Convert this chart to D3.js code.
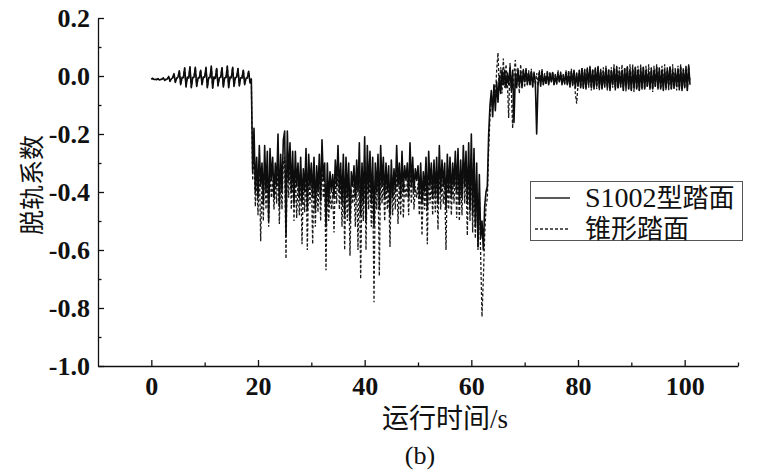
<!DOCTYPE html>
<html>
<head>
<meta charset="utf-8">
<script src="https://cdn.jsdelivr.net/npm/d3@7"></script>
<style>
  html, body { margin: 0; padding: 0; background: #fff; }
  svg { display: block; }
</style>
</head>
<body>
<svg id="chart" width="783" height="474"></svg>
<script>
// ---------------- data ----------------
const timeStep = 0.25;            // seconds between samples, starting at t = 0
const xMajorTicks = [0, 20, 40, 60, 80, 100];
const xMinorTicks = [10, 30, 50, 70, 90, 110];
const yMajorTicks = [0.2, 0.0, -0.2, -0.4, -0.6, -0.8, -1.0];
const yMinorTicks = [0.1, -0.1, -0.3, -0.5, -0.7, -0.9];
const seriesLatin = ["S1002", ""];
const seriesCjk = ["型踏面", "锥形踏面"];
const xTitle = "运行时间/s";
const yTitle = "脱轨系数";
const caption = "(b)";

// S1002 profile (solid)
const s1002Values = [
  // t 0 - 18.75
  -.010,-.008,-.012,-.011, -.012,-.009,-.014,-.012, -.011,-.006,-.015,-.012, -.010,-.002,-.018,-.010,
  -.006,.008,-.022,-.008, -.004,.018,-.030,-.006, -.006,.028,-.038,-.004, -.006,.032,-.040,-.006,
  -.004,.030,-.036,-.008, -.006,.020,-.030,-.004, -.004,.030,-.040,-.006, -.006,.034,-.042,-.004,
  -.008,.026,-.034,-.006, -.004,.028,-.038,-.006, -.006,.034,-.040,-.004, -.006,.030,-.036,-.006,
  -.004,.026,-.034,-.006, -.006,.020,-.030,-.008, -.006,.016,-.024,-.010,
  // t 19 - 63.75
  -.33,-.18,-.40,-.28, -.42,-.24,-.38,-.30, -.44,-.24,-.40,-.26, -.50,-.25,-.36,-.28,
  -.42,-.30,-.38,-.20, -.45,-.27,-.40,-.22, -.19,-.55,-.19,-.36, -.23,-.40,-.26,-.44,
  -.26,-.38,-.30,-.42, -.28,-.44,-.32,-.40, -.25,-.46,-.27,-.38, -.30,-.42,-.28,-.46,
  -.31,-.40,-.27,-.43, -.22,-.36,-.30,-.52, -.30,-.44,-.33,-.40, -.34,-.42,-.29,-.38,
  -.24,-.40,-.30,-.44, -.27,-.48,-.28,-.42, -.30,-.50,-.33,-.38, -.31,-.42,-.29,-.40,
  -.23,-.48,-.30,-.44, -.21,-.50,-.24,-.40, -.26,-.44,-.28,-.52, -.30,-.40,-.27,-.46,
  -.24,-.38,-.28,-.42, -.30,-.40,-.31,-.48, -.29,-.42,-.32,-.40, -.24,-.38,-.30,-.42,
  -.26,-.40,-.31,-.36, -.30,-.42,-.23,-.38, -.28,-.40,-.32,-.36, -.31,-.42,-.30,-.44,
  -.33,-.40,-.28,-.46, -.26,-.38,-.30,-.42, -.29,-.41,-.28,-.44, -.24,-.40,-.29,-.38,
  -.30,-.46,-.27,-.40, -.28,-.42,-.30,-.38, -.26,-.40,-.25,-.44, -.29,-.42,-.24,-.38,
  -.26,-.44,-.23,-.46, -.20,-.48,-.25,-.52, -.30,-.59,-.34,-.56, -.50,-.60,-.45,-.40,
  -.38,-.20,-.10,-.05,
  // t 64 - 101
  -.14,-.03,-.12,-.02, -.09,.00,-.06,.02, -.03,.02,-.04,.01, -.03,.03,-.05,.02,
  -.16,.01,-.04,.02, -.03,.01,-.04,.02, -.02,.02,-.03,.01, -.03,.015,-.035,.01,
  -.02,-.20,-.03,.01, -.035,.015,-.03,.00, -.025,.01,-.03,.005, -.02,.012,-.03,.00,
  -.025,.008,-.02,.01, -.03,.00,-.025,.012, -.03,.01,-.035,.015, -.03,.02,-.04,.01,
  -.035,.02,-.04,.025, -.04,.02,-.045,.025, -.03,.03,-.04,.02, -.045,.025,-.035,.03,
  -.04,.02,-.045,.015, -.035,.025,-.04,.02, -.05,.02,-.03,.025, -.045,.03,-.04,.015,
  -.035,.02,-.05,.025, -.04,.03,-.045,.02, -.05,.025,-.04,.03, -.045,.02,-.05,.025,
  -.04,.03,-.045,.02, -.035,.015,-.04,.025, -.045,.02,-.035,.03, -.04,.025,-.045,.02,
  -.05,.02,-.04,.025, -.035,.03,-.045,.02, -.04,.015,-.035,.025, -.045,.03,-.05,.02,
  -.04,.03,-.05,.035, -.03
];

// Conical profile (dashed)
const conicalValues = [
  // t 0 - 18.75
  -.011,-.009,-.012,-.010, -.013,-.010,-.013,-.012, -.010,-.007,-.014,-.011, -.011,-.003,-.017,-.009,
  -.007,.007,-.021,-.007, -.005,.017,-.029,-.005, -.005,.027,-.037,-.005, -.007,.031,-.039,-.005,
  -.005,.029,-.035,-.007, -.005,.021,-.031,-.005, -.005,.029,-.039,-.005, -.005,.033,-.041,-.005,
  -.007,.027,-.033,-.005, -.005,.029,-.037,-.005, -.005,.033,-.039,-.005, -.005,.031,-.035,-.005,
  -.005,.027,-.033,-.005, -.007,.021,-.029,-.007, -.007,.017,-.023,-.012,
  // t 19 - 63.75
  -.36,-.24,-.45,-.34, -.48,-.30,-.57,-.36, -.50,-.30,-.46,-.33, -.52,-.32,-.42,-.36,
  -.46,-.36,-.44,-.28, -.51,-.34,-.46,-.30, -.28,-.63,-.26,-.42, -.30,-.46,-.32,-.50,
  -.32,-.49,-.36,-.48, -.34,-.58,-.38,-.47, -.30,-.60,-.33,-.44, -.35,-.58,-.34,-.52,
  -.36,-.47,-.33,-.50, -.28,-.42,-.36,-.67, -.36,-.50,-.40,-.46, -.40,-.54,-.35,-.44,
  -.30,-.46,-.36,-.52, -.32,-.60,-.34,-.50, -.35,-.62,-.39,-.44, -.37,-.52,-.34,-.60,
  -.30,-.70,-.36,-.50, -.28,-.60,-.30,-.46, -.32,-.52,-.34,-.78, -.36,-.46,-.33,-.69,
  -.30,-.44,-.34,-.50, -.36,-.46,-.38,-.59, -.34,-.48,-.38,-.46, -.30,-.51,-.36,-.48,
  -.32,-.49,-.37,-.42, -.36,-.48,-.30,-.44, -.34,-.46,-.38,-.42, -.37,-.48,-.36,-.55,
  -.38,-.46,-.34,-.58, -.32,-.44,-.36,-.48, -.35,-.47,-.34,-.53, -.30,-.46,-.36,-.44,
  -.36,-.60,-.33,-.46, -.34,-.48,-.36,-.44, -.32,-.49,-.31,-.50, -.35,-.48,-.30,-.44,
  -.32,-.55,-.30,-.50, -.27,-.54,-.31,-.56, -.36,-.60,-.40,-.62, -.83,-.70,-.55,-.45,
  -.42,-.25,-.14,-.08,
  // t 64 - 101
  -.10,-.03,-.08,.02, .08,-.05,.03,-.06, .06,-.04,.04,-.02, -.145,.045,-.05,-.18,
  .01,.055,-.03,.03, -.06,.04,-.03,.025, -.04,.03,-.02,.02, -.03,.025,-.04,.015,
  -.03,.01,-.035,.02, -.02,.025,-.03,.01, -.03,.02,-.025,.015, -.02,.015,-.03,.01,
  -.03,.02,-.02,.015, -.025,.01,-.03,.02, -.03,.02,-.04,.025, -.035,.02,-.06,-.095,
  -.03,.02,-.04,.03, -.045,.025,-.04,.03, -.04,.035,-.05,.025, -.035,.03,-.045,.035,
  -.05,.025,-.04,.03, -.04,.035,-.05,.025, -.045,.03,-.04,.04, -.05,.035,-.045,.03,
  -.04,.04,-.05,.03, -.055,.035,-.045,.04, -.05,.04,-.055,.03, -.045,.035,-.05,.04,
  -.05,.03,-.045,.035, -.04,.04,-.05,.03, -.055,.035,-.04,.04, -.05,.03,-.045,.035,
  -.04,.04,-.05,.03, -.05,.035,-.045,.04, -.045,.03,-.05,.035, -.05,.04,-.045,.03,
  -.04,.035,-.05,.04, -.02
];

// ---------------- chart ----------------
const SERIF = '"Liberation Serif", "Times New Roman", serif';
const CJK = '"Liberation Serif", "Noto Sans CJK SC", serif';
const svg = d3.select("#chart");
const x = d3.scaleLinear().domain([-10, 110]).range([98, 738]);
const y = d3.scaleLinear().domain([-1.0, 0.2]).range([366, 18]);

const fmtY = d => d.toFixed(1);

// series
const toPoints = vals => vals.map((v, i) => [i * timeStep, v]);
const line = d3.line().x(d => x(d[0])).y(d => y(d[1]));

svg.append("path")
  .datum(toPoints(conicalValues))
  .attr("d", line)
  .attr("fill", "none")
  .attr("stroke", "#1a1a1a")
  .attr("stroke-width", 1.3)
  .attr("stroke-dasharray", "3,2");

svg.append("path")
  .datum(toPoints(s1002Values))
  .attr("d", line)
  .attr("fill", "none")
  .attr("stroke", "#0d0d0d")
  .attr("stroke-width", 1.6)
  .attr("stroke-linejoin", "round");

// axes
const yAxis = svg.append("g").attr("transform", "translate(98,0)")
  .call(d3.axisLeft(y).tickValues(yMajorTicks).tickFormat(fmtY)
    .tickSizeInner(-6).tickSizeOuter(0).tickPadding(8));
svg.append("g").attr("transform", "translate(98,0)")
  .call(d3.axisLeft(y).tickValues(yMinorTicks).tickFormat("")
    .tickSizeInner(-3.5).tickSizeOuter(0))
  .select(".domain").remove();

const xAxis = svg.append("g").attr("transform", "translate(0,366)")
  .call(d3.axisBottom(x).tickValues(xMajorTicks).tickFormat(d3.format("d"))
    .tickSizeInner(-6).tickSizeOuter(0).tickPadding(11));
svg.append("g").attr("transform", "translate(0,366)")
  .call(d3.axisBottom(x).tickValues(xMinorTicks).tickFormat("")
    .tickSizeInner(-3.5).tickSizeOuter(0))
  .select(".domain").remove();

svg.selectAll(".tick line, .domain").attr("stroke", "#111").attr("stroke-width", 1.3);
svg.selectAll(".tick text")
  .attr("font-family", SERIF)
  .attr("font-size", 26)
  .attr("font-weight", "bold")
  .attr("fill", "#111");
yAxis.selectAll(".tick text").attr("dy", "0.34em");

// titles
svg.append("text")
  .attr("font-family", CJK)
  .attr("transform", "translate(41,185) rotate(-90)")
  .attr("text-anchor", "middle")
  .attr("font-size", 25)
  .attr("fill", "#111")
  .text(yTitle);

svg.append("text")
  .attr("font-family", CJK)
  .attr("x", 445).attr("y", 428)
  .attr("text-anchor", "middle")
  .attr("font-size", 27)
  .attr("fill", "#111")
  .text(xTitle);

svg.append("text")
  .attr("font-family", SERIF)
  .attr("x", 420).attr("y", 464)
  .attr("text-anchor", "middle")
  .attr("font-size", 26)
  .attr("fill", "#111")
  .text(caption);

// legend
const lg = svg.append("g");
lg.append("rect")
  .attr("x", 530.5).attr("y", 181.5).attr("width", 212).attr("height", 59)
  .attr("fill", "#fff").attr("stroke", "#555").attr("stroke-width", 1);
const legendItems = [
  { latin: seriesLatin[0], cjk: seriesCjk[0], dash: null, w: 1.6, yy: 198 },
  { latin: seriesLatin[1], cjk: seriesCjk[1], dash: "3,2", w: 1.3, yy: 229 }
];
legendItems.forEach(it => {
  lg.append("line")
    .attr("x1", 535).attr("x2", 570).attr("y1", it.yy).attr("y2", it.yy)
    .attr("stroke", "#222").attr("stroke-width", it.w)
    .attr("stroke-dasharray", it.dash);
  const t = lg.append("text")
    .attr("x", 585).attr("y", it.yy + 9)
    .attr("fill", "#111");
  if (it.latin) {
    t.append("tspan").attr("font-family", SERIF).attr("font-size", 28)
      .text(it.latin);
  }
  t.append("tspan").attr("font-family", CJK).attr("font-size", 26).text(it.cjk);
});
</script>
</body>
</html>
